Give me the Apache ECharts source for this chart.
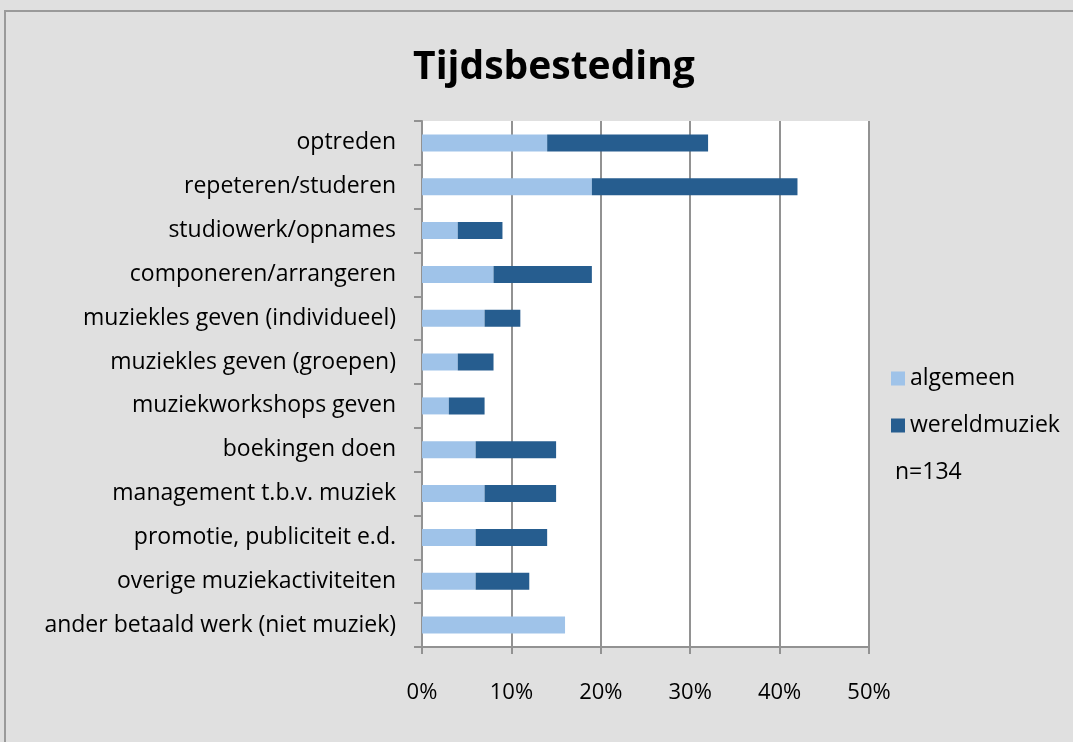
<!DOCTYPE html>
<html>
<head>
<meta charset="utf-8">
<script src="https://cdn.jsdelivr.net/npm/echarts@6/dist/echarts.min.js"></script>
<style>
  html, body { margin: 0; padding: 0; background: #e0e0e0; }
  #chart { width: 1073px; height: 742px; }
</style>
</head>
<body>
<div id="chart"></div>
<script>
const categories = [
  "optreden",
  "repeteren/studeren",
  "studiowerk/opnames",
  "componeren/arrangeren",
  "muziekles geven (individueel)",
  "muziekles geven (groepen)",
  "muziekworkshops geven",
  "boekingen doen",
  "management t.b.v. muziek",
  "promotie, publiciteit e.d.",
  "overige muziekactiviteiten",
  "ander betaald werk (niet muziek)",
];
const algemeen = [14, 19, 4, 8, 7, 4, 3, 6, 7, 6, 6, 16];
const wereldmuziek = [18, 23, 5, 11, 4, 4, 4, 9, 8, 8, 6, 0];
const xTicks = [0, 10, 20, 30, 40, 50];

const fontFamily = "'Open Sans', 'Noto Sans', sans-serif";
const chart = echarts.init(document.getElementById("chart"));
chart.setOption({
  backgroundColor: "#e0e0e0",
  animation: false,
  title: {
    text: "Tijdsbesteding",
    left: 549,
    top: 43,
    textAlign: "center",
    textStyle: { fontFamily, fontSize: 39, fontWeight: "bold", color: "#000" },
  },
  grid: { left: 422, right: 204, top: 121, bottom: 95, backgroundColor: "#fff", show: true, borderWidth: 0 },
  legend: {
    orient: "vertical",
    left: 886,
    top: 362,
    itemWidth: 14,
    itemHeight: 14,
    itemGap: 24,
    icon: "rect",
    textStyle: { fontFamily, fontSize: 23, color: "#000" },
    data: ["algemeen", "wereldmuziek"],
  },
  xAxis: {
    type: "value",
    min: xTicks[0],
    max: xTicks[xTicks.length - 1],
    interval: 10,
    axisLine: { show: true, lineStyle: { color: "#929292", width: 2 } },
    axisTick: { show: true, length: 7, lineStyle: { color: "#929292", width: 2 } },
    axisLabel: { formatter: "{value}%", margin: 35, fontFamily, fontSize: 22, color: "#000" },
    splitLine: { show: true, lineStyle: { color: "#929292", width: 2 } },
  },
  yAxis: {
    type: "category",
    inverse: true,
    data: categories,
    axisLine: { show: true, lineStyle: { color: "#929292", width: 2 } },
    axisTick: { show: true, length: 8, lineStyle: { color: "#929292", width: 2 } },
    axisLabel: { margin: 26, fontFamily, fontSize: 23, color: "#000", padding: [8, 0, 0, 0] },
  },
  series: [
    {
      name: "algemeen",
      type: "bar",
      stack: "total",
      barWidth: 17,
      data: algemeen,
      itemStyle: { color: "#9fc3e9" },
    },
    {
      name: "wereldmuziek",
      type: "bar",
      stack: "total",
      barWidth: 17,
      data: wereldmuziek,
      itemStyle: { color: "#265d8f" },
    },
  ],
  graphic: [
    {
      type: "rect",
      shape: { x: 5, y: 11, width: 1200, height: 900 },
      style: { fill: "none", stroke: "#9a9a9a", lineWidth: 2 },
      silent: true,
    },
    {
      type: "text",
      left: 895,
      top: 461,
      style: { text: "n=134", font: "23px " + fontFamily, fill: "#000" },
    },
  ],
});
</script>
</body>
</html>
